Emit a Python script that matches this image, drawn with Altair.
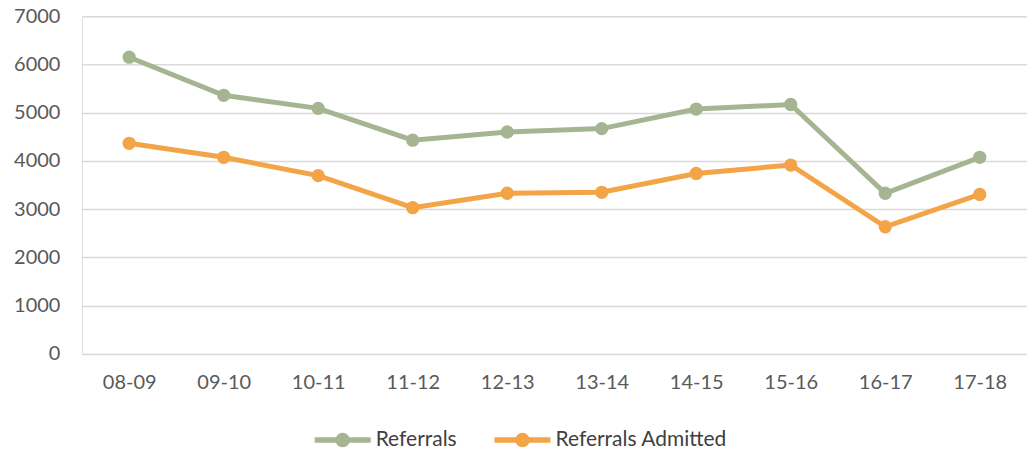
import altair as alt
import pandas as pd

years = ["08-09", "09-10", "10-11", "11-12", "12-13", "13-14", "14-15", "15-16", "16-17", "17-18"]
referrals = [6150, 5360, 5090, 4430, 4600, 4670, 5075, 5170, 3330, 4075]
admitted = [4365, 4075, 3695, 3030, 3330, 3350, 3740, 3915, 2635, 3305]
series_names = ["Referrals", "Referrals Admitted"]
series_colors = ["#A5B592", "#F3A447"]
y_ticks = [0, 1000, 2000, 3000, 4000, 5000, 6000, 7000]

rows = []
for i, yr in enumerate(years):
    rows.append({"year": yr, "series": series_names[0], "value": referrals[i]})
    rows.append({"year": yr, "series": series_names[1], "value": admitted[i]})
df = pd.DataFrame(rows)

FONT = "Lato"
# legend glyph: a line with a dot, drawn wider than the nominal symbol box
legend_path = ("M -2.8 0 L 2.8 0 "
               "M 0 -0.45 A 0.45 0.45 0 1 1 0 0.45 A 0.45 0.45 0 1 1 0 -0.45 Z")

x_enc = alt.X("year:N", sort=years, scale=alt.Scale(paddingInner=0, paddingOuter=0.5),
              axis=alt.Axis(title=None, labelAngle=0, domain=False, ticks=False,
                            labelPadding=19, labelFontSize=20, labelColor="#595959",
                            labelFont=FONT, grid=False))
y_enc = alt.Y("value:Q", scale=alt.Scale(domain=[0, 7000], nice=False),
              axis=alt.Axis(title=None, values=y_ticks, format="d", domain=False, ticks=False,
                            labelPadding=22, labelFontSize=20, labelColor="#595959",
                            labelFont=FONT, gridColor="#D9D9D9", gridWidth=1.5))
scale_c = alt.Scale(domain=series_names, range=series_colors)
legend_c = alt.Legend(title=None, orient="none", direction="horizontal",
                      legendX=248, legendY=411, padding=0,
                      symbolType=legend_path, symbolSize=400,
                      symbolStrokeWidth=5.5, symbolOpacity=1, labelFontSize=21,
                      labelFont=FONT, labelColor="#404040", labelLimit=400,
                      labelOffset=20, columnPadding=26)
color_enc = alt.Color("series:N", sort=series_names, scale=scale_c, legend=legend_c)

lines = alt.Chart(df).mark_line(strokeWidth=5).encode(x=x_enc, y=y_enc, color=color_enc)
points = alt.Chart(df).mark_circle(size=177, opacity=1).encode(x=x_enc, y=y_enc, color=color_enc)

chart = (lines + points).properties(
    width=946, height=338,
    autosize=alt.AutoSizeParams(type="none"),
    padding={"left": 74, "top": 8, "right": 0, "bottom": 100},
).configure_view(stroke=None).configure(background="white")

chart.save("out.html", embed_options={"renderer": "svg", "actions": False})
